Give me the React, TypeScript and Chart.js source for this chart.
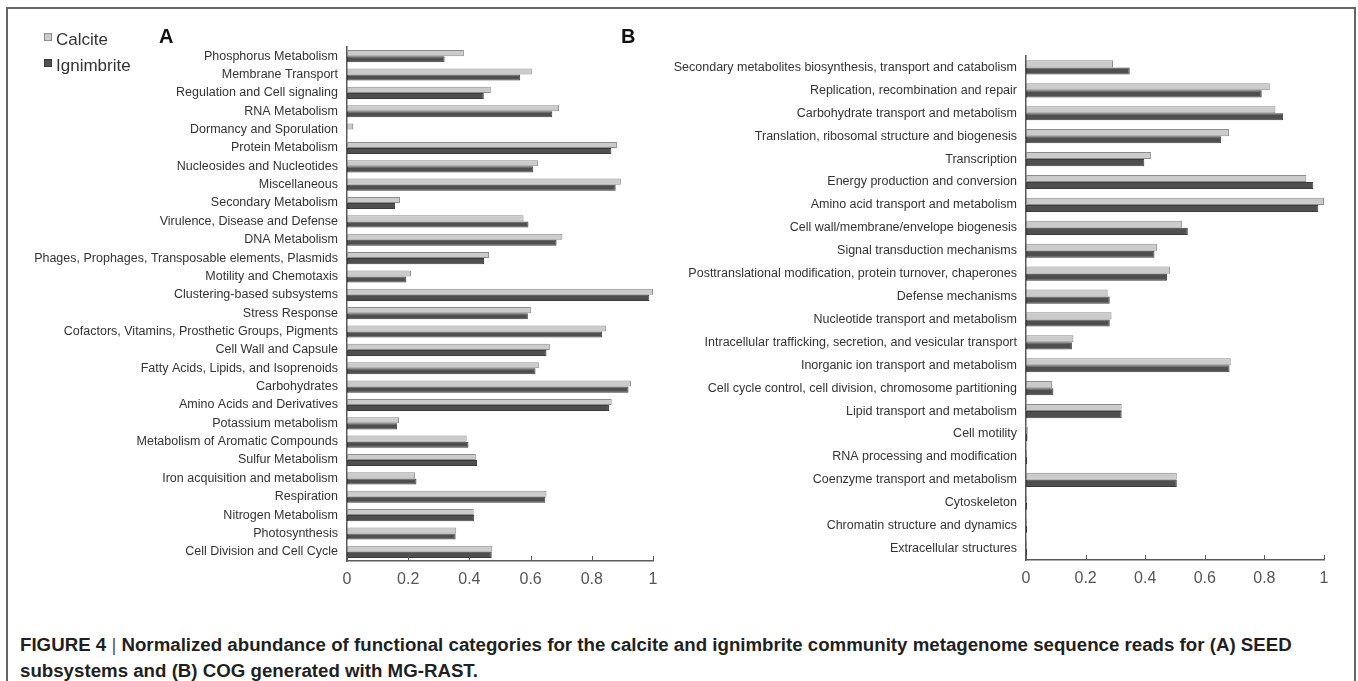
import React, { useEffect, useRef } from "react";
import { Chart, registerables } from "chart.js";

Chart.register(...registerables);

const seriesNames = ["Calcite", "Ignimbrite"];

const seedCategories = [
  "Phosphorus Metabolism",
  "Membrane Transport",
  "Regulation and Cell signaling",
  "RNA Metabolism",
  "Dormancy and Sporulation",
  "Protein Metabolism",
  "Nucleosides and Nucleotides",
  "Miscellaneous",
  "Secondary Metabolism",
  "Virulence, Disease and Defense",
  "DNA Metabolism",
  "Phages, Prophages, Transposable elements, Plasmids",
  "Motility and Chemotaxis",
  "Clustering-based subsystems",
  "Stress Response",
  "Cofactors, Vitamins, Prosthetic Groups, Pigments",
  "Cell Wall and Capsule",
  "Fatty Acids, Lipids, and Isoprenoids",
  "Carbohydrates",
  "Amino Acids and Derivatives",
  "Potassium metabolism",
  "Metabolism of Aromatic Compounds",
  "Sulfur Metabolism",
  "Iron acquisition and metabolism",
  "Respiration",
  "Nitrogen Metabolism",
  "Photosynthesis",
  "Cell Division and Cell Cycle",
];

const seedCalcite = [
  0.382, 0.604, 0.47, 0.693, 0.02, 0.882, 0.624, 0.895, 0.173, 0.577, 0.704,
  0.464, 0.209, 1.0, 0.601, 0.846, 0.663, 0.627, 0.928, 0.865, 0.17, 0.391,
  0.421, 0.222, 0.652, 0.414, 0.357, 0.475,
];

const seedIgnimbrite = [
  0.319, 0.566, 0.447, 0.671, 0.0, 0.864, 0.609, 0.878, 0.157, 0.593, 0.685,
  0.448, 0.194, 0.988, 0.591, 0.834, 0.652, 0.616, 0.92, 0.856, 0.164, 0.397,
  0.425, 0.227, 0.648, 0.416, 0.355, 0.473,
];

const cogCategories = [
  "Secondary metabolites biosynthesis, transport and catabolism",
  "Replication, recombination and repair",
  "Carbohydrate transport and metabolism",
  "Translation, ribosomal structure and biogenesis",
  "Transcription",
  "Energy production and conversion",
  "Amino acid transport and metabolism",
  "Cell wall/membrane/envelope biogenesis",
  "Signal transduction mechanisms",
  "Posttranslational modification, protein turnover, chaperones",
  "Defense mechanisms",
  "Nucleotide transport and metabolism",
  "Intracellular trafficking, secretion, and vesicular transport",
  "Inorganic ion transport and metabolism",
  "Cell cycle control, cell division, chromosome partitioning",
  "Lipid transport and metabolism",
  "Cell motility",
  "RNA processing and modification",
  "Coenzyme transport and metabolism",
  "Cytoskeleton",
  "Chromatin structure and dynamics",
  "Extracellular structures",
];

const cogCalcite = [
  0.292, 0.818, 0.837, 0.681, 0.42, 0.941, 1.0, 0.524, 0.44, 0.483, 0.274,
  0.287, 0.159, 0.687, 0.087, 0.321, 0.006, 0.004, 0.506, 0.004, 0.004, 0.004,
];

const cogIgnimbrite = [
  0.348, 0.791, 0.863, 0.655, 0.397, 0.964, 0.981, 0.543, 0.431, 0.473, 0.281,
  0.281, 0.154, 0.683, 0.092, 0.321, 0.005, 0.004, 0.506, 0.004, 0.004, 0.004,
];

const CALCITE_FILL = "#cbcbcb";
const CALCITE_BORDER = "#8c8c8c";
const IGN_FILL = "#4f4f4f";
const IGN_BORDER = "#3c3c3c";
const AXIS_COLOR = "#5a5a5a";
const FONT = "'Liberation Sans', Arial, sans-serif";

const innerTicks = {
  id: "innerTicks",
  afterDraw(chart: any) {
    const { ctx, chartArea } = chart;
    const x = chart.scales.x;
    ctx.save();
    ctx.strokeStyle = AXIS_COLOR;
    ctx.lineWidth = 1;
    x.ticks.forEach((t: any) => {
      const px = Math.round(x.getPixelForValue(t.value)) + 0.5;
      ctx.beginPath();
      ctx.moveTo(px, chartArea.bottom);
      ctx.lineTo(px, chartArea.bottom - 5);
      ctx.stroke();
    });
    ctx.restore();
  },
};

type PanelProps = {
  labels: string[];
  calcite: number[];
  ignimbrite: number[];
  yWidth: number;
  xHeight: number;
  padTop: number;
  padRight: number;
  catPct: number;
  style: React.CSSProperties;
};

function Panel(p: PanelProps) {
  const ref = useRef<HTMLCanvasElement | null>(null);
  useEffect(() => {
    if (!ref.current) return;
    const chart = new Chart(ref.current, {
      type: "bar",
      data: {
        labels: p.labels,
        datasets: [
          {
            label: seriesNames[0],
            data: p.calcite,
            backgroundColor: CALCITE_FILL,
            borderColor: CALCITE_BORDER,
            borderWidth: 1,
            borderSkipped: false,
            categoryPercentage: p.catPct,
            barPercentage: 1,
          },
          {
            label: seriesNames[1],
            data: p.ignimbrite,
            backgroundColor: IGN_FILL,
            borderColor: IGN_BORDER,
            borderWidth: 1,
            borderSkipped: false,
            categoryPercentage: p.catPct,
            barPercentage: 1,
          },
        ],
      },
      options: {
        indexAxis: "y",
        animation: false,
        responsive: false,
        maintainAspectRatio: false,
        layout: { padding: { top: p.padTop, right: p.padRight, left: 0, bottom: 0 } },
        plugins: {
          legend: { display: false },
          tooltip: { enabled: false },
        },
        scales: {
          x: {
            min: 0,
            max: 1,
            ticks: {
              stepSize: 0.2,
              color: "#555",
              font: { family: FONT, size: 16 },
              padding: 9,
              callback: (v: any) => String(Number(Number(v).toFixed(1))),
            },
            grid: { display: false, drawTicks: false },
            border: { display: true, color: AXIS_COLOR, width: 1.5 },
            afterFit: (scale: any) => {
              scale.height = p.xHeight;
            },
          },
          y: {
            ticks: {
              color: "#333",
              font: { family: FONT, size: 12.5 },
              padding: 9,
              autoSkip: false,
            },
            grid: { display: false, drawTicks: false },
            border: { display: true, color: AXIS_COLOR, width: 1.5 },
            afterFit: (scale: any) => {
              scale.width = p.yWidth;
              scale.paddingTop = 0;
              scale.paddingBottom = 0;
            },
          },
        },
      } as any,
      plugins: [innerTicks],
    });
    return () => chart.destroy();
  }, []);
  const w = p.style.width as number;
  const h = p.style.height as number;
  return <canvas ref={ref} width={w} height={h} style={{ position: "absolute", ...p.style }} />;
}

export default function App() {
  return (
    <div
      style={{
        position: "absolute",
        left: 0,
        top: 0,
        width: 1358,
        height: 681,
        overflow: "hidden",
        background: "#fff",
        fontFamily: FONT,
      }}
    >
      <div
        style={{
          position: "absolute",
          left: 6,
          top: 7,
          width: 1350,
          height: 700,
          border: "2px solid #666",
          boxSizing: "border-box",
        }}
      />
      <Panel
        labels={seedCategories}
        calcite={seedCalcite}
        ignimbrite={seedIgnimbrite}
        yWidth={347}
        xHeight={39}
        padTop={7}
        padRight={27}
        catPct={0.66}
        style={{ left: 0, top: 40, width: 680, height: 560 }}
      />
      <Panel
        labels={cogCategories}
        calcite={cogCalcite}
        ignimbrite={cogIgnimbrite}
        yWidth={376}
        xHeight={40}
        padTop={16}
        padRight={34}
        catPct={0.62}
        style={{ left: 650, top: 40, width: 708, height: 560 }}
      />
      {/* Legend */}
      <div style={{ position: "absolute", left: 44, top: 29, fontSize: 17, color: "#333", lineHeight: "22px" }}>
        <div style={{ display: "flex", alignItems: "center" }}>
          <span
            style={{
              display: "inline-block",
              width: 6,
              height: 6,
              background: CALCITE_FILL,
              border: "1px solid " + CALCITE_BORDER,
              marginRight: 4,
              marginTop: -6,
            }}
          />
          <span>{seriesNames[0]}</span>
        </div>
        <div style={{ display: "flex", alignItems: "center", marginTop: 4 }}>
          <span
            style={{
              display: "inline-block",
              width: 6,
              height: 6,
              background: IGN_FILL,
              border: "1px solid " + IGN_BORDER,
              marginRight: 4,
              marginTop: -6,
            }}
          />
          <span>{seriesNames[1]}</span>
        </div>
      </div>
      <div style={{ position: "absolute", left: 159, top: 25, fontSize: 20, fontWeight: "bold", color: "#111" }}>A</div>
      <div style={{ position: "absolute", left: 621, top: 25, fontSize: 20, fontWeight: "bold", color: "#111" }}>B</div>
      <div
        style={{
          position: "absolute",
          left: 20,
          top: 632,
          fontSize: 18.7,
          fontWeight: "bold",
          color: "#231f20",
          lineHeight: "26px",
          width: 1330,
          whiteSpace: "nowrap",
        }}
      >
        FIGURE 4 <span style={{ fontWeight: "normal", color: "#555" }}>|</span> Normalized abundance of functional
        categories for the calcite and ignimbrite community metagenome sequence reads for (A) SEED
        <br />
        subsystems and (B) COG generated with MG-RAST.
      </div>
    </div>
  );
}
